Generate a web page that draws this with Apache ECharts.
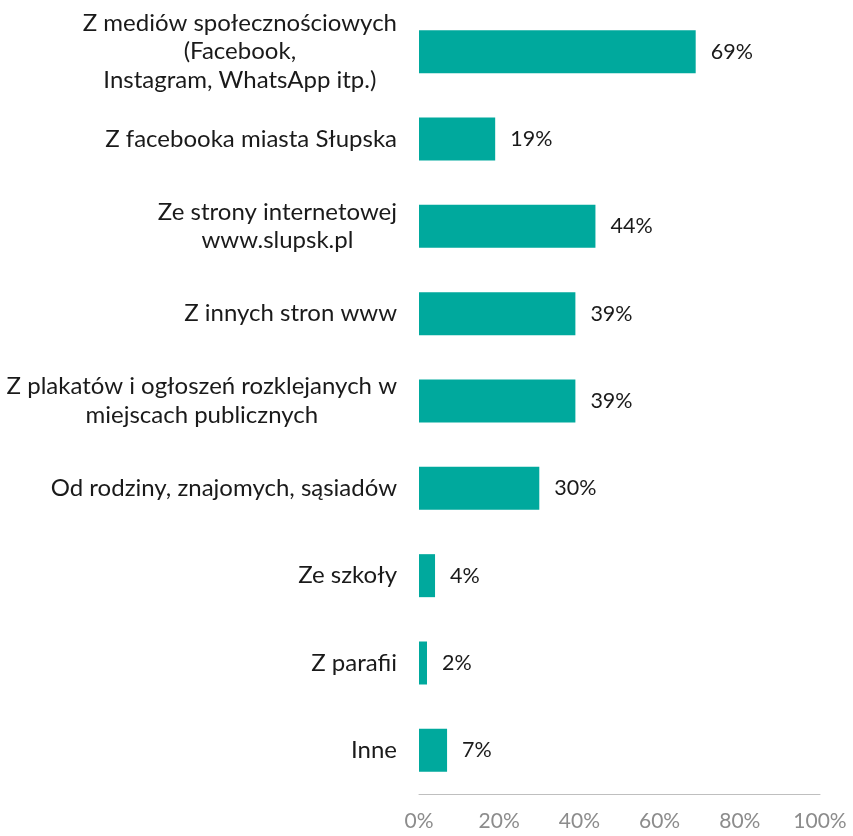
<!DOCTYPE html>
<html>
<head>
<meta charset="utf-8">
<script src="https://cdn.jsdelivr.net/npm/echarts@6/dist/echarts.min.js"></script>
<style>
html,body{margin:0;padding:0;background:#fff;}
#main{width:853px;height:836px;}
</style>
</head>
<body>
<div id="main"></div>
<script>
const categories = [
  "Z mediów społecznościowych\n(Facebook,\nInstagram, WhatsApp itp.)",
  "Z facebooka miasta Słupska",
  "Ze strony internetowej\nwww.slupsk.pl",
  "Z innych stron www",
  "Z plakatów i ogłoszeń rozklejanych w\nmiejscach publicznych",
  "Od rodziny, znajomych, sąsiadów",
  "Ze szkoły",
  "Z parafii",
  "Inne"
];
const values = [69, 19, 44, 39, 39, 30, 4, 2, 7];
const tickValues = [0, 20, 40, 60, 80, 100];

const chart = echarts.init(document.getElementById('main'), null, {renderer: 'canvas'});
chart.setOption({
  animation: false,
  backgroundColor: '#ffffff',
  textStyle: {fontFamily: 'Lato'},
  grid: {left: 419, right: 33, top: 8, bottom: 42, containLabel: false},
  xAxis: {
    type: 'value',
    min: 0, max: 100, interval: 20,
    splitLine: {show: false},
    axisTick: {show: false},
    axisLine: {show: true, lineStyle: {color: '#bfbfbf', width: 1}},
    axisLabel: {
      color: '#8c8c8c', fontSize: 21, fontFamily: 'Lato', margin: 17,
      formatter: v => tickValues.includes(v) ? v + '%' : ''
    }
  },
  yAxis: {
    type: 'category',
    inverse: true,
    data: categories,
    axisLine: {show: false},
    axisTick: {show: false},
    axisLabel: {
      margin: 22,
      align: 'right',
      formatter: v => '{c|' + v + '}',
      rich: {
        c: {align: 'center', fontSize: 24, lineHeight: 28.5, color: '#1a1a1a', fontFamily: 'Lato'}
      }
    }
  },
  series: [{
    type: 'bar',
    data: values,
    barWidth: 43,
    itemStyle: {color: '#00a99d'},
    label: {
      show: true, position: 'right', distance: 15,
      formatter: p => p.value + '%',
      color: '#1a1a1a', fontSize: 21.5, fontFamily: 'Lato'
    }
  }]
});
</script>
</body>
</html>
